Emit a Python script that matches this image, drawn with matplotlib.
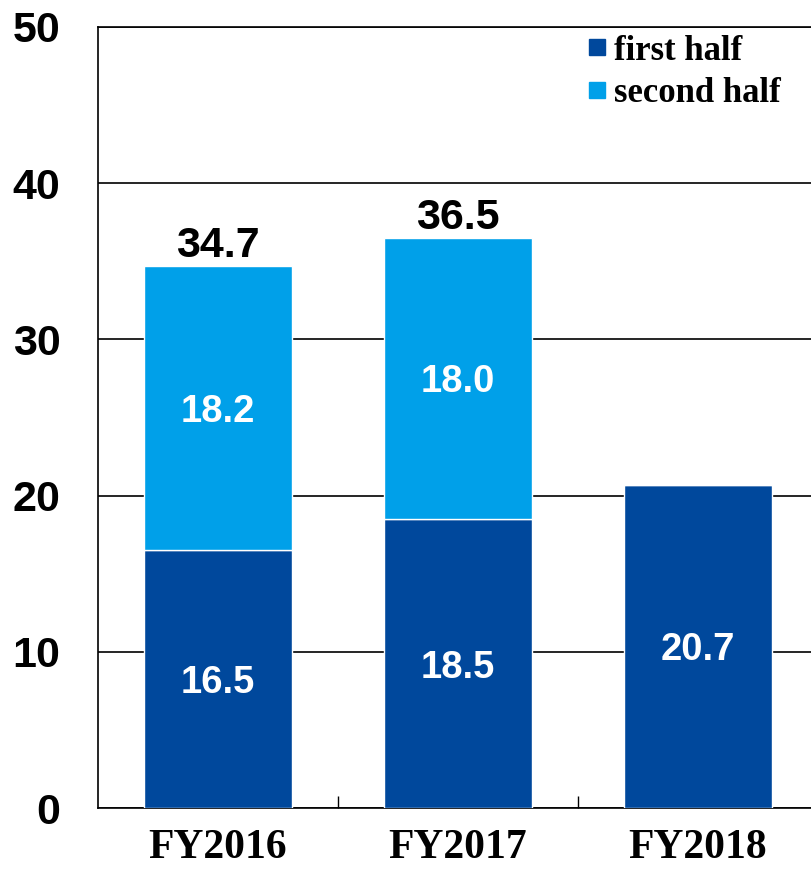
import matplotlib.pyplot as plt
import numpy as np
from matplotlib.lines import Line2D

years = ['FY2016', 'FY2017', 'FY2018']
first_half = [16.5, 18.5, 20.7]
second_half = [18.2, 18.0, np.nan]
totals = [34.7, 36.5, np.nan]

dark_blue = '#00489c'
light_blue = '#00a0e9'

fig = plt.figure(figsize=(8.11, 8.77), dpi=100)
ax = fig.add_axes([98 / 811, 69 / 877, 720 / 811, 781 / 877])

x = np.arange(len(years))
w = 0.617
ax.bar(x, first_half, w, color=dark_blue, edgecolor='white', linewidth=1, zorder=3)
sh = [0 if np.isnan(v) else v for v in second_half]
ax.bar(x, sh, w, bottom=first_half, color=light_blue, edgecolor='white', linewidth=1, zorder=3)

# value labels inside the bars
for i in range(len(years)):
    ax.text(x[i], first_half[i] / 2, f'{first_half[i]:.1f}', ha='center', va='center_baseline',
            color='white', fontsize=27.5, fontweight='bold', family='Liberation Sans', zorder=4)
    if not np.isnan(second_half[i]):
        ax.text(x[i], first_half[i] + second_half[i] / 2, f'{second_half[i]:.1f}',
                ha='center', va='center_baseline', color='white', fontsize=27.5, fontweight='bold',
                family='Liberation Sans', zorder=4)
    if not np.isnan(totals[i]):
        ax.annotate(f'{totals[i]:.1f}', (x[i], totals[i]), xytext=(0, 0),
                    textcoords='offset points', ha='center', va='bottom',
                    fontsize=31, fontweight='bold', family='Liberation Sans')

ax.set_xlim(-0.5, 2.5)
ax.set_ylim(0, 50)
ax.set_yticks([0, 10, 20, 30, 40, 50])
ax.yaxis.grid(True, color='black', linewidth=1.2, zorder=0)
ax.set_axisbelow(True)
ax.tick_params(axis='y', length=0, pad=27)
for lab in ax.get_yticklabels():
    lab.set_fontsize(31)
    lab.set_fontweight('bold')
    lab.set_family('Liberation Sans')

# x ticks at category boundaries, labels centred under bars
ax.set_xticks([0.5, 1.5])
ax.set_xticklabels([])
ax.tick_params(axis='x', which='major', direction='in', length=9, width=1)
ax.set_xticks(x, minor=True)
ax.set_xticklabels(years, minor=True)
ax.tick_params(axis='x', which='minor', length=0, pad=15)
for lab in ax.get_xticklabels(minor=True):
    lab.set_fontsize(30)
    lab.set_fontweight('bold')
    lab.set_family('Liberation Serif')

for s in ['left', 'bottom', 'top']:
    ax.spines[s].set_linewidth(1.2)
ax.spines['right'].set_visible(False)

handles = [Line2D([], [], marker='s', linestyle='none', markersize=11, color=dark_blue),
           Line2D([], [], marker='s', linestyle='none', markersize=11, color=light_blue)]
ax.legend(handles, ['first half', 'second half'], loc='upper right',
          bbox_to_anchor=(795 / 720 - 98 / 720, 1.008), frameon=False,
          prop={'family': 'Liberation Serif', 'weight': 'bold', 'size': 25},
          handletextpad=0.0, labelspacing=0.28, handlelength=1.0, borderaxespad=0)

fig.savefig('out.png', dpi=100)
